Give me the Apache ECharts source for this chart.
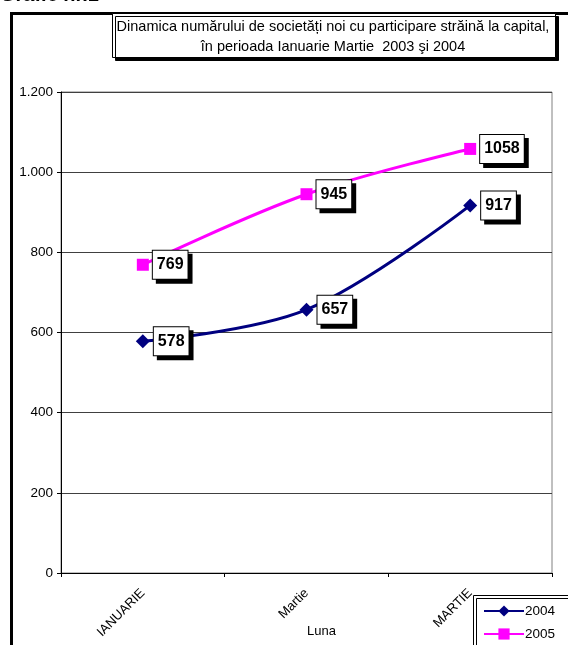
<!DOCTYPE html>
<html><head><meta charset="utf-8">
<script src="https://cdn.jsdelivr.net/npm/echarts@6/dist/echarts.min.js"></script>
<style>html,body{margin:0;padding:0;background:#fff}#c{width:568px;height:645px}</style>
</head><body><div id="c"></div>
<script>
var categories = ['IANUARIE', 'Martie', 'MARTIE'];
var series2004 = [578, 657, 917];
var series2005 = [769, 945, 1058];
var seriesNames = ['2004', '2005'];
var yTicks = [0, 200, 400, 600, 800, 1000, 1200];
var titleLines = ['Dinamica numărului de societăți noi cu participare străină la capital,', 'în perioada Ianuarie Martie  2003 şi 2004'];
var xAxisName = 'Luna';

var FONT = 'Arial, "Liberation Sans", sans-serif';
var chart = echarts.init(document.getElementById('c'), null, {renderer: 'canvas'});
function fmt(v){ return String(v).replace(/\B(?=(\d{3})+(?!\d))/g, '.'); }
var lbl = {
  show: true, position: 'right', distance: 4,
  color: '#000', fontFamily: FONT, fontWeight: 'bold', fontSize: 16,
  backgroundColor: '#fff', borderColor: '#000', borderWidth: 1,
  padding: [7, 4, 5, 4],
  shadowColor: '#000', shadowOffsetX: 4, shadowOffsetY: 4, shadowBlur: 0
};
chart.setOption({
  animation: false,
  backgroundColor: '#fff',
  graphic: [
    {type: 'text', left: 0, top: -15, style: {text: 'Grafic nr.1', font: 'bold 20px ' + FONT, fill: '#000'}},
    {type: 'rect', shape: {x: 11.5, y: 13.5, width: 640, height: 700}, style: {fill: null, stroke: '#000', lineWidth: 3}},
    {type: 'rect', shape: {x: 112.5, y: 13.5, width: 443, height: 44}, style: {fill: '#fff', stroke: '#000', lineWidth: 1, shadowColor: '#000', shadowOffsetX: 3, shadowOffsetY: 3, shadowBlur: 0}, z: 10},
    {type: 'text', x: 333, y: 17, z: 11, style: {text: titleLines.join('\n'), font: '14.5px ' + FONT, fill: '#000', align: 'center', lineHeight: 20}},
    {type: 'rect', shape: {x: 473.5, y: 595.5, width: 120, height: 80}, style: {fill: '#fff', stroke: '#000', lineWidth: 1, shadowColor: '#000', shadowOffsetX: 3, shadowOffsetY: 3, shadowBlur: 0}, z: 10}
  ],
  legend: {
    data: seriesNames, orient: 'vertical', left: 483, top: 604, itemGap: 9,
    itemWidth: 40, itemHeight: 14, z: 12, padding: 0, height: 60,
    textStyle: {fontFamily: FONT, fontSize: 13.5, color: '#000', padding: [0, 0, 0, -4]}
  },
  grid: {left: 61, right: 16, top: 92, height: 481, show: true, borderColor: '#808080', borderWidth: 1, backgroundColor: 'transparent', outerBoundsMode: 'none', containLabel: false},
  xAxis: {
    type: 'category', data: categories, boundaryGap: true,
    name: xAxisName, nameLocation: 'middle', nameGap: 52, nameMoveOverlap: false,
    nameTextStyle: {fontFamily: FONT, fontSize: 13, color: '#000', padding: [0, 0, 0, 30]},
    axisLine: {lineStyle: {color: '#000', width: 1}},
    axisTick: {show: true, length: 4, lineStyle: {color: '#000'}, alignWithLabel: false},
    axisLabel: {rotate: 45, fontFamily: FONT, fontSize: 13, color: '#000', margin: 18},
    splitLine: {show: false}
  },
  yAxis: {
    type: 'value', min: yTicks[0], max: yTicks[yTicks.length - 1], interval: 200,
    axisLine: {show: true, lineStyle: {color: '#000'}},
    axisTick: {show: true, length: 4, lineStyle: {color: '#000'}},
    axisLabel: {fontFamily: FONT, fontSize: 13.5, color: '#000', margin: 8, formatter: fmt},
    splitLine: {show: true, lineStyle: {color: '#404040', width: 1}}
  },
  series: [
    {name: seriesNames[0], type: 'line', data: series2004, smooth: 0.35,
     symbol: 'diamond', symbolSize: 14, color: '#000080',
     lineStyle: {color: '#000080', width: 3}, itemStyle: {color: '#000080'},
     label: lbl, z: 5},
    {name: seriesNames[1], type: 'line', data: series2005, smooth: 0.35,
     symbol: 'rect', symbolSize: 12, color: '#FF00FF',
     lineStyle: {color: '#FF00FF', width: 3}, itemStyle: {color: '#FF00FF'},
     label: lbl, z: 5}
  ]
});
</script></body></html>
